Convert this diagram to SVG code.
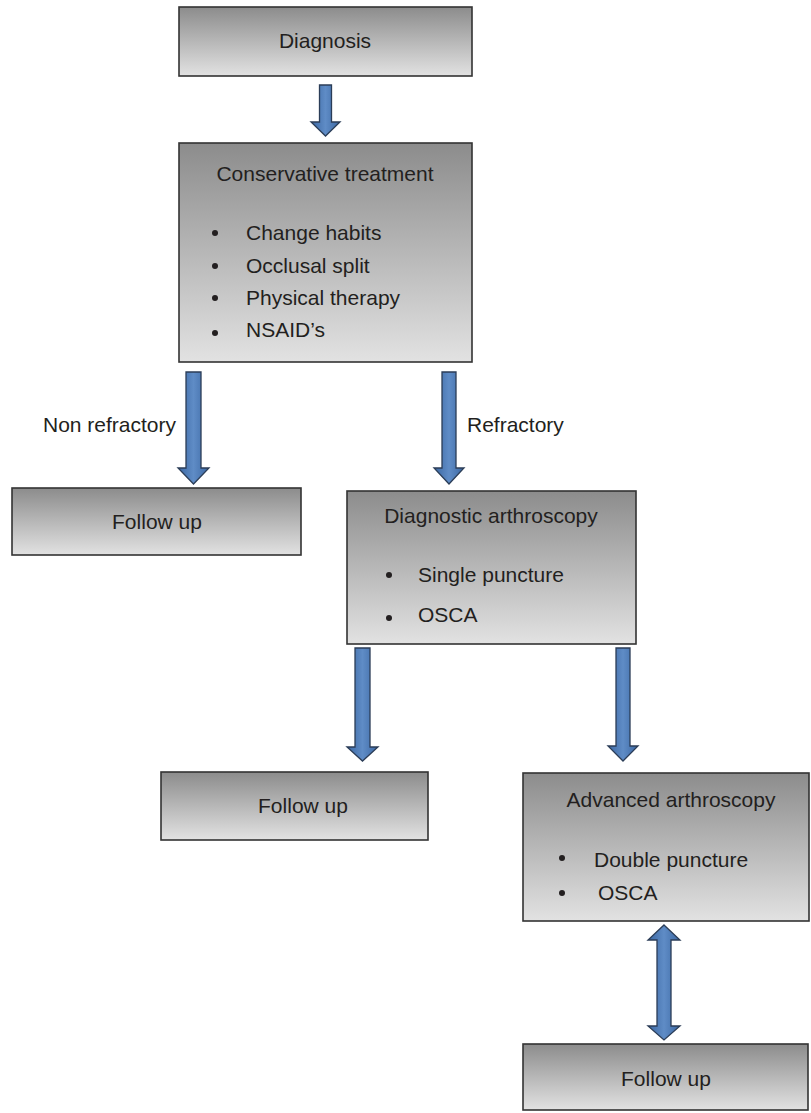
<svg xmlns="http://www.w3.org/2000/svg" width="811" height="1113" viewBox="0 0 811 1113">
<defs>
<linearGradient id="boxg" x1="0" y1="0" x2="0" y2="1">
<stop offset="0" stop-color="#8c8c8c"/>
<stop offset="1" stop-color="#e2e2e2"/>
</linearGradient>
<linearGradient id="arrg" x1="0" y1="0" x2="1" y2="0">
<stop offset="0" stop-color="#3b67a2"/>
<stop offset="0.5" stop-color="#5f8cc6"/>
<stop offset="1" stop-color="#3b67a2"/>
</linearGradient>
<style>
.box{fill:url(#boxg);stroke:#333;stroke-width:1.6}
.arr{fill:url(#arrg);stroke:#2b3d57;stroke-width:1.3;stroke-linejoin:miter}
text{font-family:"Liberation Sans",Arial,sans-serif;font-size:21px;fill:#231f20}
.c{text-anchor:middle}
.b{fill:#231f20}
</style>
</defs>
<g id="connectors">
<path class="arr" d="M319.5,85 H331.5 V122 H340 L325.5,136 L311,122 H319.5 Z"/>
<path class="arr" d="M186,372 H201 V468 H209 L193.5,484 L178,468 H186 Z"/>
<path class="arr" d="M442,372 H456 V468 H464 L449,484 L434,468 H442 Z"/>
<path class="arr" d="M355,648 H370 V747 H378 L362.5,761 L347,747 H355 Z"/>
<path class="arr" d="M616,648 H630 V746 H638 L623,761 L608,746 H616 Z"/>
<path class="arr" d="M664,925 L680,940 H671 V1026 H680 L664,1040 L648,1026 H657 V940 H648 Z"/>
<text x="43" y="432">Non refractory</text>
<text x="467" y="432">Refractory</text>
</g>
<g id="diagnosis">
<rect class="box" x="179" y="7" width="293" height="69"/>
<text class="c" x="325" y="48">Diagnosis</text>
</g>
<g id="conservative">
<rect class="box" x="179" y="143" width="293" height="219"/>
<text class="c" x="325" y="181">Conservative treatment</text>
<circle class="b" cx="215" cy="233" r="3"/>
<circle class="b" cx="215" cy="266" r="3"/>
<circle class="b" cx="215" cy="298" r="3"/>
<circle class="b" cx="215" cy="333" r="3"/>
<text x="246" y="240">Change habits</text>
<text x="246" y="273">Occlusal split</text>
<text x="246" y="305">Physical therapy</text>
<text x="246" y="337">NSAID’s</text>
</g>
<g id="followup1">
<rect class="box" x="12" y="488" width="289" height="67"/>
<text class="c" x="157" y="529">Follow up</text>
</g>
<g id="diagnostic">
<rect class="box" x="347" y="491" width="289" height="153"/>
<text class="c" x="491" y="523">Diagnostic arthroscopy</text>
<circle class="b" cx="389" cy="575" r="3"/>
<circle class="b" cx="389" cy="618" r="3"/>
<text x="418" y="582">Single puncture</text>
<text x="418" y="622">OSCA</text>
</g>
<g id="followup2">
<rect class="box" x="161" y="772" width="267" height="68"/>
<text class="c" x="303" y="813">Follow up</text>
</g>
<g id="advanced">
<rect class="box" x="523" y="773" width="286" height="148"/>
<text class="c" x="671" y="807">Advanced arthroscopy</text>
<circle class="b" cx="562" cy="858" r="3"/>
<circle class="b" cx="562" cy="893" r="3"/>
<text x="594" y="867">Double puncture</text>
<text x="598" y="900">OSCA</text>
</g>
<g id="followup3">
<rect class="box" x="523" y="1044" width="285" height="66"/>
<text class="c" x="666" y="1086">Follow up</text>
</g>
</svg>
